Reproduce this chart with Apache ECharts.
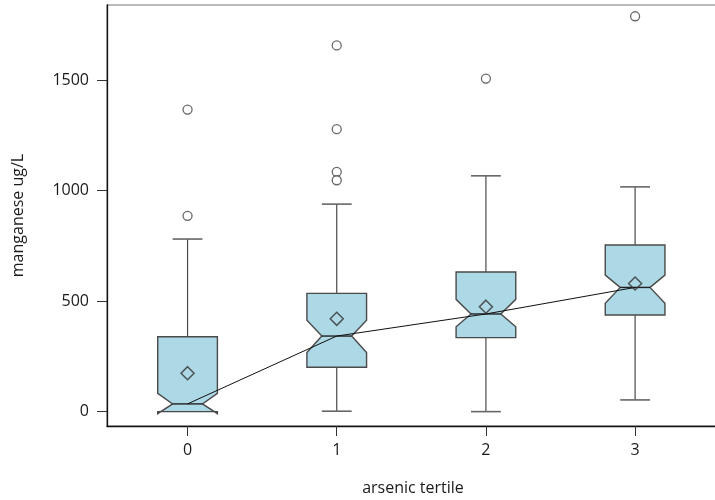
<!DOCTYPE html>
<html>
<head>
<meta charset="utf-8">
<script src="https://cdn.jsdelivr.net/npm/echarts@6/dist/echarts.min.js"></script>
<style>
  html, body { margin: 0; padding: 0; background: #fff; }
  #chart { width: 715px; height: 500px; }
</style>
</head>
<body>
<div id="chart"></div>
<script>
// Manganese concentration by arsenic tertile (notched box plots)
const tertiles = [0, 1, 2, 3];
const tickLabelsX = ['0', '1', '2', '3'];
const tickValuesY = [0, 500, 1000, 1500];

const whiskerLow  = [0, 2, 0, 53];
const q1          = [0, 201, 335, 437];
const notchLow    = [-9, 267, 384, 490];
const median      = [35, 342, 442, 562];
const notchHigh   = [83, 414, 508, 618];
const q3          = [339, 535, 632, 754];
const whiskerHigh = [781, 939, 1067, 1017];
const means       = [174, 420, 475, 580];

const outlierTertile = [0, 0, 1, 1, 1, 1, 2, 3];
const outlierValue   = [1367, 886, 1657, 1278, 1085, 1047, 1507, 1789];

const boxData = tertiles.map((t, i) => [t, whiskerLow[i], q1[i], notchLow[i], median[i], notchHigh[i], q3[i], whiskerHigh[i]]);
const medianLine = tertiles.map((t, i) => [t, median[i]]);
const meanPoints = tertiles.map((t, i) => [t, means[i]]);
const outlierPoints = outlierTertile.map((t, i) => [t, outlierValue[i]]);

const HALF = 0.2;     // half box width in axis units
const INNER = 0.1;    // half width at the notch waist
const CAP = 0.1;      // half width of whisker caps
const BOX_FILL = '#add8e6';
const EDGE = '#4a4a4a';
const FONT = '"Open Sans", sans-serif';
const TEXT = '#1a1a1a';

function renderBox(params, api) {
  const x = api.value(0);
  const wl = api.value(1), a = api.value(2), nl = api.value(3), m = api.value(4),
        nh = api.value(5), b = api.value(6), wh = api.value(7);
  const c = (px, py) => api.coord([px, py]);
  const children = [];
  // whiskers behind the box
  if (wh > b) {
    const p1 = c(x, b), p2 = c(x, wh), k1 = c(x - CAP, wh), k2 = c(x + CAP, wh);
    children.push({ type: 'line', shape: { x1: p1[0], y1: p1[1], x2: p2[0], y2: p2[1] }, style: { stroke: EDGE, lineWidth: 1.2 } });
    children.push({ type: 'line', shape: { x1: k1[0], y1: k1[1], x2: k2[0], y2: k2[1] }, style: { stroke: '#666', lineWidth: 1.6 } });
  }
  if (wl < a) {
    const p1 = c(x, a), p2 = c(x, wl), k1 = c(x - CAP, wl), k2 = c(x + CAP, wl);
    children.push({ type: 'line', shape: { x1: p1[0], y1: p1[1], x2: p2[0], y2: p2[1] }, style: { stroke: EDGE, lineWidth: 1.2 } });
    children.push({ type: 'line', shape: { x1: k1[0], y1: k1[1], x2: k2[0], y2: k2[1] }, style: { stroke: '#666', lineWidth: 1.6 } });
  }
  const pts = [
    c(x - HALF, b), c(x + HALF, b), c(x + HALF, nh), c(x + INNER, m),
    c(x + HALF, nl), c(x + HALF, a), c(x - HALF, a), c(x - HALF, nl),
    c(x - INNER, m), c(x - HALF, nh)
  ];
  children.push({ type: 'polygon', shape: { points: pts }, style: { fill: BOX_FILL, stroke: EDGE, lineWidth: 1.4, lineJoin: 'miter' } });
  const m1 = c(x - INNER, m), m2 = c(x + INNER, m);
  children.push({ type: 'line', shape: { x1: m1[0], y1: m1[1], x2: m2[0], y2: m2[1] }, style: { stroke: '#222', lineWidth: 1.4 } });
  return { type: 'group', children };
}

const chart = echarts.init(document.getElementById('chart'), null, { renderer: 'canvas' });
chart.setOption({
  animation: false,
  backgroundColor: '#ffffff',
  grid: {
    left: 107, top: 5, width: 612, height: 421,
    outerBoundsMode: 'none', containLabel: false,
    show: true, borderColor: '#777777', borderWidth: 1.2, backgroundColor: 'transparent'
  },
  xAxis: {
    type: 'value', min: -0.54, max: 3.5624,
    name: 'arsenic tertile', nameLocation: 'middle', nameGap: 54,
    nameTextStyle: { fontFamily: FONT, fontSize: 16, color: TEXT },
    axisLine: { show: true, onZero: false, lineStyle: { color: '#111', width: 1.3 } },
    axisTick: { show: true, length: 10, customValues: tertiles, lineStyle: { color: '#333' } },
    axisLabel: { customValues: tertiles, formatter: v => tickLabelsX[tertiles.indexOf(v)] ?? '', margin: 16, fontFamily: FONT, fontSize: 16, color: TEXT },
    splitLine: { show: false }
  },
  yAxis: {
    type: 'value', min: -65, max: 1840,
    name: 'manganese ug/L', nameLocation: 'middle', nameGap: 81, nameRotate: 90,
    nameTextStyle: { fontFamily: FONT, fontSize: 16, color: TEXT },
    axisLine: { show: true, onZero: false, lineStyle: { color: '#111', width: 1.3 } },
    axisTick: { show: true, length: 10, customValues: tickValuesY, lineStyle: { color: '#333' } },
    axisLabel: { customValues: tickValuesY, formatter: v => String(v), margin: 18, fontFamily: FONT, fontSize: 16, color: TEXT },
    splitLine: { show: false }
  },
  series: [
    {
      type: 'custom', renderItem: renderBox, data: boxData, z: 2,
      encode: { x: 0, y: [1, 7] }
    },
    {
      type: 'line', data: medianLine, symbol: 'none', z: 3,
      lineStyle: { color: '#111', width: 1 }
    },
    {
      type: 'scatter', data: meanPoints, symbol: 'diamond', symbolSize: [13, 13], z: 4,
      itemStyle: { color: 'rgba(0,0,0,0)', borderColor: '#333', borderWidth: 1.5 }
    },
    {
      type: 'scatter', data: outlierPoints, symbol: 'circle', symbolSize: 9, z: 4,
      itemStyle: { color: '#ffffff', borderColor: '#444', borderWidth: 1.3 }
    }
  ]
});
</script>
</body>
</html>
